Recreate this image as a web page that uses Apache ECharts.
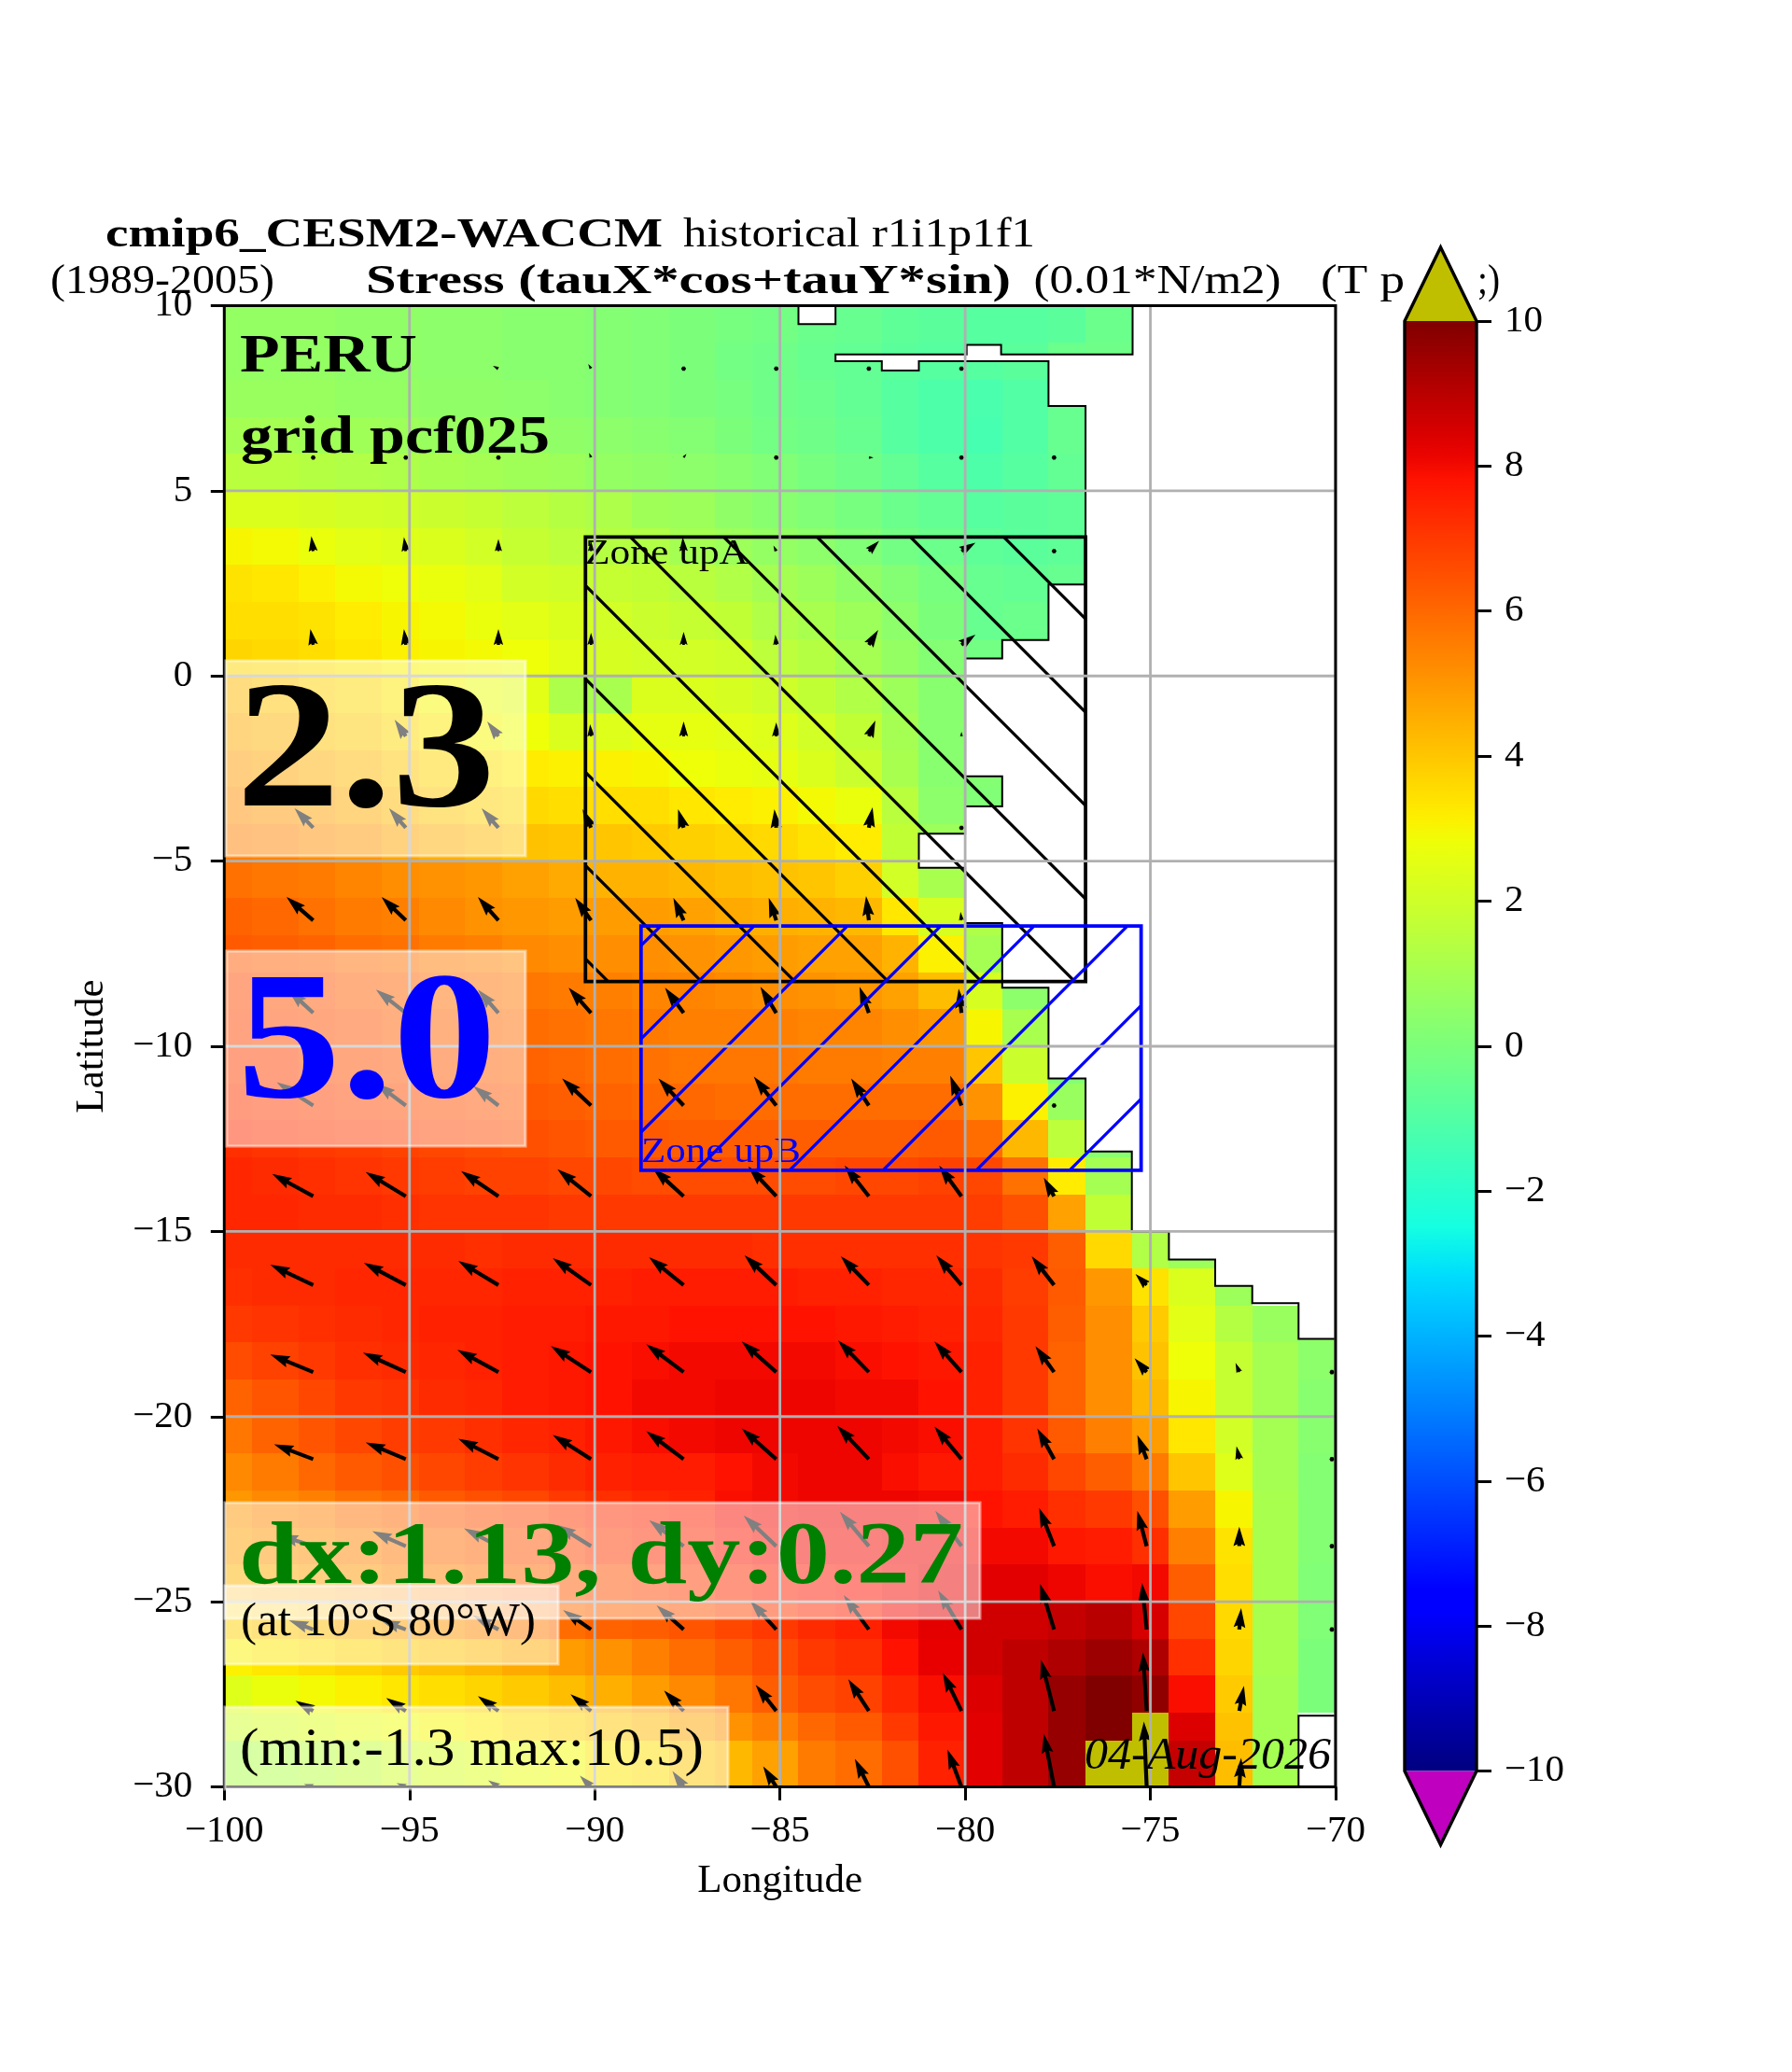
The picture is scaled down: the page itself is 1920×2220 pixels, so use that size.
<!DOCTYPE html>
<html><head><meta charset="utf-8">
<style>html,body{margin:0;padding:0;background:#fff}#c{width:1920px;height:2220px}</style>
<script src="https://cdn.jsdelivr.net/npm/echarts@6/dist/echarts.min.js"></script>
</head><body><div id="c"></div>
<script>
// ---- data ----
const lonTicks = [-100,-95,-90,-85,-80,-75,-70];
const latTicks = [-30,-25,-20,-15,-10,-5,0,5,10];
const cbarTicks = [-10,-8,-6,-4,-2,0,2,4,6,8,10];
const lonEdges = [-100,-99.25,-98,-97,-95.75,-94.75,-93.5,-92.5,-91.25,-90.25,-89,-88,-86.75,-85.75,-84.5,-83.5,-82.25,-81.25,-80,-79,-77.75,-76.75,-75.5,-74.5,-73.25,-72.25,-71,-70];
const latEdges = [10,9,8,7,6,5,4,3,2,1,0,-1,-2,-3,-4,-5,-6,-7,-8,-9,-10,-11,-12,-13,-14,-15,-16,-17,-18,-19,-20,-21,-22,-23,-24,-25,-26,-27,-28,-28.75,-30];
const stressRows = [
[.6,.6,.6,.5,.5,.4,.4,.3,.3,.2,.1,0,-.1,-.2,-.4,-.5,-.7,-.8,-.9,-.9,-.8,-.4],
[.6,.6,.6,.5,.5,.4,.4,.3,.3,.2,.1,0,-.2,-.3,-.5,-.6,-.8,-.9,-.9,-.8,-.4,-.3],
[.7,.7,.7,.6,.6,.5,.5,.4,.3,.2,.1,0,-.1,-.3,-.4,-.6,-.9,-1.1,-1.2,-1.0,-.5,-.3],
[1.0,1.0,.9,.9,.8,.7,.7,.6,.5,.4,.3,.2,0,-.2,-.3,-.5,-.9,-1.1,-1.3,-1.0,-.5,-.3],
[1.5,1.5,1.4,1.3,1.2,1.1,1.0,.9,.8,.6,.5,.4,.3,.1,-.1,-.3,-.6,-.9,-1.1,-.9,-.6,-.4],
[2.3,2.3,2.2,2.1,2.0,1.9,1.8,1.6,1.4,1.2,.9,.8,.5,.3,.1,-.1,-.4,-.6,-.9,-.8,-.7,-.5],
[3.0,2.9,2.7,2.5,2.4,2.3,2.1,1.8,1.6,1.4,1.3,1.0,.8,.6,.4,.1,-.2,-.4,-.7,-.8,-.7,-.5],
[3.4,3.3,3.1,2.9,2.8,2.7,2.5,2.1,2.0,1.8,1.7,1.5,1.3,1.0,.8,.5,.2,-.1,-.5,-.6,-.5],
[3.5,3.5,3.4,3.2,3.0,2.9,2.7,2.5,2.3,2.1,1.9,1.8,1.7,1.3,1.1,.8,.4,0,-.5,-.4],
[3.7,3.6,3.5,3.3,3.1,3.0,2.9,2.8,2.5,2.2,2.1,2.1,2.0,1.6,1.4,1.0,.6,.2,-.2,-.2],
[4.3,4.1,3.8,3.6,3.3,3.0,2.7,2.5,1.2,1.1,2.3,2.3,2.2,2.0,1.7,1.3,.8,.3],
[4.6,4.4,4.1,3.9,3.6,3.3,3.0,2.8,2.3,2.4,2.6,2.6,2.5,2.4,2.1,1.7,1.0,.3],
[4.9,4.7,4.5,4.3,4.0,3.7,3.4,3.2,3.1,3.1,3.0,2.8,2.7,2.6,2.3,1.9,1.1,.3,.2],
[5.2,5.0,4.8,4.6,4.3,4.0,3.8,3.6,3.5,3.5,3.5,3.3,3.2,3.1,2.9,2.7,1.5,.4,.1],
[5.5,5.4,5.2,5.0,4.7,4.5,4.3,4.1,4.0,4.0,3.9,3.8,3.7,3.6,3.4,3.2,1.7,.8],
[5.8,5.7,5.6,5.4,5.2,5.1,5.0,4.8,4.6,4.4,4.4,4.3,4.2,4.1,4.0,3.8,2.1,1.1],
[6.1,6.0,5.8,5.6,5.5,5.3,5.1,5.0,4.9,4.9,4.9,4.8,4.6,4.5,4.4,4.3,3.3,2.2,1.2],
[6.3,6.2,6.1,5.9,5.8,5.6,5.5,5.3,5.2,5.2,5.2,5.1,5.0,4.9,4.8,4.8,4.4,3.1,1.0],
[6.6,6.5,6.4,6.2,6.1,5.9,5.8,5.7,5.6,5.5,5.4,5.4,5.3,5.2,5.1,5.0,4.8,4.2,2.2,.4],
[6.7,6.6,6.5,6.4,6.2,6.1,6.0,5.9,5.8,5.7,5.6,5.5,5.5,5.5,5.4,5.4,5.2,5.0,3.0,1.1],
[6.8,6.8,6.6,6.5,6.4,6.3,6.2,6.1,6.0,5.9,5.8,5.7,5.7,5.7,5.6,5.6,5.5,5.5,4.0,1.9,.2],
[7.0,6.9,6.8,6.7,6.6,6.5,6.4,6.3,6.2,6.1,6.0,6.0,5.9,5.9,5.9,5.9,5.9,5.9,5.1,3.1,.7],
[7.2,7.1,7.0,6.9,6.8,6.7,6.6,6.5,6.4,6.3,6.3,6.2,6.2,6.2,6.2,6.2,6.2,6.3,5.9,4.3,1.6,.3],
[7.4,7.3,7.2,7.1,7.0,6.9,6.8,6.8,6.7,6.7,6.6,6.6,6.6,6.6,6.6,6.7,6.7,6.8,6.7,5.8,3.2,1.0],
[7.4,7.4,7.3,7.3,7.2,7.1,7.1,7.1,7.0,7.0,7.0,7.0,7.0,7.0,7.0,7.0,7.0,7.0,6.9,6.5,4.8,1.7],
[7.3,7.3,7.3,7.3,7.3,7.3,7.2,7.3,7.3,7.3,7.3,7.3,7.3,7.2,7.2,7.2,7.2,7.2,7.1,7.0,6.2,3.6,1.3,.8],
[7.2,7.3,7.3,7.4,7.4,7.4,7.4,7.5,7.5,7.5,7.6,7.6,7.6,7.6,7.5,7.5,7.4,7.4,7.3,6.9,6.3,5.0,3.4,2.3,.8],
[7.0,7.1,7.2,7.3,7.4,7.5,7.5,7.6,7.6,7.7,7.7,7.8,7.8,7.8,7.8,7.7,7.6,7.5,7.4,7.0,6.2,5.2,3.9,2.5,1.4,.7,.5],
[6.6,6.8,7.0,7.2,7.3,7.4,7.5,7.6,7.7,7.8,7.9,8.0,8.0,8.0,8.0,7.9,7.8,7.7,7.5,7.0,6.1,5.2,4.1,2.8,1.8,1.0,.4],
[6.1,6.4,6.7,7.0,7.1,7.3,7.4,7.6,7.7,7.8,8.0,8.0,8.1,8.1,8.1,8.0,8.0,7.8,7.5,7.0,6.1,5.2,4.3,3.0,1.8,1.0,.3],
[5.7,6.1,6.4,6.7,6.9,7.0,7.2,7.4,7.5,7.7,7.9,8.0,8.1,8.1,8.1,8.1,8.0,7.9,7.6,7.1,6.3,5.5,4.9,3.3,2.1,1.0,.3],
[5.3,5.6,6.0,6.3,6.5,6.7,6.9,7.1,7.3,7.5,7.6,7.6,7.8,8.0,8.1,8.1,7.9,7.7,7.6,7.3,6.7,6.2,5.6,4.0,2.4,1.0,.2],
[5.0,5.3,5.5,5.8,6.0,6.3,6.5,6.7,7.0,7.2,7.4,7.5,7.9,8.0,8.1,8.1,8.1,8.0,7.8,7.6,7.2,7.0,6.5,4.9,3.0,1.1,.2],
[4.8,5.0,5.2,5.4,5.7,5.9,6.1,6.4,6.7,7.0,7.2,7.3,7.7,7.9,8.0,8.0,8.1,8.1,8.0,8.0,7.7,7.6,7.2,5.5,3.4,1.1,.2],
[4.4,4.6,4.8,5.0,5.3,5.5,5.7,6.0,6.3,6.5,6.7,6.9,7.2,7.5,7.7,7.8,8.0,8.2,8.3,8.3,8.1,7.9,8.0,6.2,3.5,1.1,.1],
[3.8,4.0,4.2,4.5,4.8,5.0,5.3,5.6,5.9,6.1,6.2,6.4,6.7,7.0,7.3,7.5,8.0,8.25,8.6,8.6,8.8,9.0,8.5,6.7,3.6,1.1,.1],
[3.1,3.3,3.5,3.7,3.9,4.1,4.3,4.6,4.9,5.1,5.5,5.9,6.2,6.6,7.0,7.2,7.8,8.2,8.6,8.9,9.2,9.5,9.2,7.2,3.7,1.1,0],
[2.4,2.7,2.9,3.1,3.3,3.5,3.7,3.9,4.2,4.5,4.9,5.3,5.7,6.2,6.6,6.8,7.4,7.9,8.4,8.9,9.6,10,9.7,7.9,3.9,1.0,0],
[2.0,2.2,2.4,2.6,2.8,3.0,3.2,3.5,3.7,4.0,4.3,4.7,5.1,5.5,6.0,6.3,7.0,7.7,8.3,8.9,9.6,10,10.5,8.4,4.1,1.0],
[1.2,1.3,1.5,1.7,2.0,2.2,2.4,2.7,2.9,3.3,3.5,4.0,4.3,4.8,5.6,5.9,6.5,7.5,8.3,8.9,9.6,10.5,10.5,8.8,4.2,1.0]
];
const arrowLons = [-97.6,-95.1,-92.6,-90.1,-87.6,-85.1,-82.6,-80.1,-77.6,-75.1,-72.6,-70.1];
const arrowLats = [8.3,5.9,3.37,.84,-1.63,-4.1,-6.6,-9.1,-11.6,-14.05,-16.45,-18.8,-21.15,-23.5,-25.75,-27.95,-30];
const arrowU = [
[-3,-4,-6,-3,0,0,0,0],
[1,2,0,-2,3,0,5,0,0],
[-2,-2,0,0,-1,-3,11,15,0],
[-3,-2,0,0,0,-1,10,15],
[-12,-12,-12,-1,0,0,7,0],
[-20,-18,-18,-9,-6,-2,4,0],
[-28.6,-26,-22,-17,-11,-8,-3,-1],
[-27,-32,-22,-24,-20,-17,-10,-3],
[-39,-32,-27,-31,-27,-24,-19,-12,0],
[-44,-43,-40,-36,-33,-30,-26,-24,-11],
[-46,-45,-43,-41,-37,-34,-30,-27,-24,-12],
[-46,-46,-44,-43,-40,-37,-33,-29,-20,-13,-4,0],
[-42,-43,-43,-41,-40,-37,-34,-29,-18,-10,-3,0],
[-37,-36,-37,-37,-37,-35,-31,-28,-16,-10,0,0],
[-26,-27,-27,-30,-29,-28,-27,-25,-15,-5,2,0],
[-19,-21,-22,-22,-21,-22,-22,-20,-14,-4,5],
[-10,-10,-11,-12,-12,-14,-15,-15,-11,-3,2]
];
const arrowV = [
[3,3,3,5,0,0,0,0],
[-2,-3,2,5,4,4,0,0,0],
[16,15,13,11,15,6,11,9,0],
[17,17,17,13,14,11,16,11],
[17,18,16,13,16,15,17,5],
[21,21,21,20,20,20,22,0],
[25,25,25,24,24,24,26,9],
[25,25,25,27,27,28,28,26],
[25,24,21,29,29,31,29,32,0],
[24,26,27,29,30,32,33,33,20],
[22,24,26,29,30,32,31,32,31,12],
[19,21,24,28,30,33,34,33,28,15,10,0],
[16,18,22,26,30,33,36,35,33,26,14,0],
[12,16,19,23,28,33,37,38,41,38,21,0],
[10,10,15,21,26,31,37,42,49,50,23,0],
[11,14,16,18,22,28,34,41,55,63,27],
[3,4,7,12,17,22,30,40,57,70,31]
];
const landMain = [[-75.48,10],[-75.48,8.68],[-79.03,8.68],[-79.03,8.94],[-79.96,8.94],[-79.96,8.68],[-83.5,8.68],[-83.5,8.5],[-82.25,8.5],[-82.25,8.25],[-81.25,8.25],[-81.25,8.5],[-77.75,8.5],[-77.75,7.29],[-76.75,7.29],[-76.75,2.47],[-77.75,2.47],[-77.75,.97],[-79,.97],[-79,.47],[-80,.47],[-80,-2.71],[-79,-2.71],[-79,-3.52],[-80,-3.52],[-80,-4.26],[-81.25,-4.26],[-81.25,-5.18],[-80,-5.18],[-80,-6.67],[-79,-6.67],[-79,-8.42],[-77.75,-8.42],[-77.75,-10.87],[-76.75,-10.87],[-76.75,-12.84],[-75.5,-12.84],[-75.5,-15],[-74.5,-15],[-74.5,-15.76],[-73.25,-15.76],[-73.25,-16.47],[-72.25,-16.47],[-72.25,-16.94],[-71,-16.94],[-71,-17.9],[-70,-17.9],[-70,10]];
const landIslandN = [[-84.5,10],[-84.5,9.5],[-83.5,9.5],[-83.5,10]];
const landIslandS = [[-71,-30],[-71,-28.08],[-70,-28.08],[-70,-30]];
const zoneA = [-90.25,3.75,-76.75,-8.25];
const zoneB = [-88.75,-6.75,-75.25,-13.35];
const cbarRange = [-10,10];

// ---- colour map ----
function seg(p,t){for(let i=1;i<p.length;i++){if(t<=p[i][0]){const a=p[i-1],b=p[i];return a[1]+(b[1]-a[1])*(t-a[0])/(b[0]-a[0]);}}return p[p.length-1][1];}
const R=[[0,0],[.35,0],[.66,1],[.89,1],[1,.5]],G=[[0,0],[.125,0],[.375,1],[.64,1],[.91,0],[1,0]],B=[[0,.5],[.11,1],[.34,1],[.65,0],[1,0]];
const OVER='#bfbf00',UNDER='#bf00bf';
function jet(v){if(v>10)return OVER;if(v<-10)return UNDER;const t=(v+10)/20;const h=c=>Math.round(seg(c,t)*255);return `rgb(${h(R)},${h(G)},${h(B)})`;}

const cellData=[];
stressRows.forEach((row,r)=>row.forEach((v,c)=>{if(v!=null)cellData.push([c,r,v]);}));
const arrowData=[];
arrowLats.forEach((la,r)=>arrowU[r].forEach((u,c)=>arrowData.push([arrowLons[c],la,u,arrowV[r][c]])));
const landPolys=[landMain,landIslandN,landIslandS];
const gridData=lonTicks.map(v=>[v,0]).concat(latTicks.map(v=>[v,1]));

const ARROW_DEG=1/39.7; // arrow units -> degrees
function arrowPoly(x0,y0,x1,y1){
  const w=4.2,dx=x1-x0,dy=y1-y0,L=Math.hypot(dx,dy);
  if(L<w){ // matplotlib quiver: short vectors become dots
    const pts=[];for(let i=0;i<6;i++){const a=i*Math.PI/3;pts.push([x0+w/1.6*Math.cos(a),y0+w/1.6*Math.sin(a)]);}return pts;
  }
  let hl=5*w,ha=4.5*w,hw=1.5*w,sw=w/2;
  if(L<hl){const s=L/hl;hl*=s;ha*=s;hw*=s;sw*=s;}
  const ux=dx/L,uy=dy/L,nx=-uy,ny=ux;
  const P=(a,b)=>[x0+ux*a+nx*b,y0+uy*a+ny*b];
  return [P(0,sw),P(L-ha,sw),P(L-hl,hw),P(L,0),P(L-hl,-hw),P(L-ha,-sw),P(0,-sw)];
}
function hatch(x0,y0,x1,y1,dir){
  const out=[];
  for(let k=-6000;k<6000;k+=100){
    let a,b,c,d;
    if(dir>0){ // y-x=k
      a=Math.max(x0,y0-k);b=Math.min(x1,y1-k);if(a>=b)continue;c=a+k;d=b+k;
    }else{ // x+y=k
      if(k<0)continue;
      a=Math.max(x0,k-y1);b=Math.min(x1,k-y0);if(a>=b)continue;c=k-a;d=k-b;
    }
    out.push([a,c,b,d]);
  }
  return out;
}
function zoneRender(rect,color,dir){
  return function(params,api){
    const p0=api.coord([rect[0],rect[1]]),p1=api.coord([rect[2],rect[3]]);
    const ch=hatch(p0[0],p0[1],p1[0],p1[1],dir).map(s=>({type:'line',shape:{x1:s[0],y1:s[1],x2:s[2],y2:s[3]},style:{stroke:color,lineWidth:3.2,fill:null}}));
    ch.push({type:'rect',shape:{x:p0[0],y:p0[1],width:p1[0]-p0[0],height:p1[1]-p0[1]},style:{fill:'none',stroke:color,lineWidth:3.8}});
    return {type:'group',children:ch};
  };
}
const SER='"Liberation Serif",serif';
const mc=document.createElement('canvas').getContext('2d');
function T(str,x,base,font,w,fill,z){
  const size=parseFloat(font.match(/([\d.]+)px/)[1]);
  const f=font+' '+SER;mc.font=f;
  const sx=w?w/mc.measureText(str).width:1;
  const k=size>70?0.247:0.285;
  return {type:'text',x:x,y:base-k*size,scaleX:sx,z:z||20,silent:true,
    style:{text:str,font:f,fill:fill||'#000',align:'left',verticalAlign:'middle'}};
}
function BOX(x0,y0,x1,y1){
  return {type:'rect',z:15,silent:true,shape:{x:x0,y:y0,width:x1-x0,height:y1-y0},style:{fill:'rgba(255,255,255,0.5)',stroke:'rgba(255,255,255,0.5)',lineWidth:3}};
}
const minus=v=>String(v).replace('-','\u2212');
const tickStyle={show:true,length:14.5,lineStyle:{color:'#000',width:3}};
const labelBase={color:'#000',fontFamily:'Liberation Serif',fontSize:41};

const chart=echarts.init(document.getElementById('c'),null,{renderer:'canvas',width:1920,height:2220});
chart.setOption({
  backgroundColor:'#fff',animation:false,
  grid:[
    {left:240.3,top:327.5,width:1190.7,height:1587,containLabel:false},
    {left:1505,top:344,width:77,height:1553.5,containLabel:false}
  ],
  xAxis:[
    {gridIndex:0,type:'value',min:-100,max:-70,interval:5,z:7,
     name:'Longitude',nameLocation:'middle',nameGap:80,nameTextStyle:{color:'#000',fontFamily:'Liberation Serif',fontSize:43},
     axisLine:{show:false,onZero:false},axisTick:tickStyle,
     axisLabel:{...labelBase,margin:27,formatter:minus,showMinLabel:true,showMaxLabel:true},
     splitLine:{show:false}},
    {gridIndex:1,type:'value',min:0,max:1,show:false,axisLine:{onZero:false}}
  ],
  yAxis:[
    {gridIndex:0,type:'value',min:-30,max:10,interval:5,z:7,
     name:'Latitude',nameLocation:'middle',nameGap:120,nameRotate:90,nameTextStyle:{color:'#000',fontFamily:'Liberation Serif',fontSize:43},
     axisLine:{show:false,onZero:false},axisTick:tickStyle,
     axisLabel:{...labelBase,margin:34,formatter:minus,showMinLabel:true,showMaxLabel:true},
     splitLine:{show:false}},
    {gridIndex:1,type:'value',position:'right',min:cbarRange[0],max:cbarRange[1],interval:2,z:7,
     axisLine:{show:false,onZero:false},axisTick:{show:true,length:16,lineStyle:{color:'#000',width:3}},
     axisLabel:{...labelBase,margin:30,formatter:minus,showMinLabel:true,showMaxLabel:true},
     splitLine:{show:false}}
  ],
  graphic:{elements:[
    BOX(242,708,563,917),BOX(243,1019,563,1228),BOX(241,1610,1050,1734),BOX(241,1699,598,1783),BOX(241,1829,780,1917),
    T('cmip6_CESM2-WACCM',113,265,'bold 44px',597,'#000',1),
    T('historical r1i1p1f1',732,265,'44px',377,'#000',1),
    T('(1989-2005)',54,315,'44px',240,'#000',1),
    T('Stress (tauX*cos+tauY*sin)',392,315,'bold 44px',691,'#000',1),
    T('(0.01*N/m2)',1107.6,315,'44px',265,'#000',1),
    T('(T p',1415,315,'44px',90,'#000',1),
    T(';)',1583,315,'44px',24,'#000',1),
    T('PERU',257,400,'bold 58px',190),
    T('grid pcf025',258,487,'bold 58px',331),
    T('2.3',253,860.7,'bold 194px',278),
    T('5.0',254,1172.5,'bold 194px',278,'#0000ff'),
    T('dx:1.13, dy:0.27',256,1695,'bold 96px',776,'#008000'),
    T('(at 10\u00b0S 80\u00b0W)',258,1753,'50px',316),
    T('(min:-1.3 max:10.5)',257,1892.7,'58px',497),
    T('04-Aug-2026',1162,1896,'italic 48px',264,'#000',8),
    T('Zone upA',627,605,'38px',175,'#000',4),
    T('Zone upB',687,1246,'38px',171,'#0000ff',4)
  ]},
  series:[
    {type:'custom',name:'stress',xAxisIndex:0,yAxisIndex:0,z:1,silent:true,clip:true,data:cellData,
     renderItem(params,api){
       const c=api.value(0),r=api.value(1),v=api.value(2);
       const a=api.coord([lonEdges[c],latEdges[r]]),b=api.coord([lonEdges[c+1],latEdges[r+1]]);
       const x0=Math.round(a[0]),y0=Math.round(a[1]),x1=Math.round(b[0]),y1=Math.round(b[1]);
       return {type:'rect',shape:{x:x0,y:y0,width:x1-x0,height:y1-y0},style:{fill:jet(v)}};
     }},
    {type:'custom',name:'land',xAxisIndex:0,yAxisIndex:0,z:2,silent:true,clip:true,data:landPolys.map((p,i)=>[i]),
     renderItem(params,api){
       const pts=landPolys[params.dataIndex].map(p=>api.coord(p));
       return {type:'polygon',shape:{points:pts},style:{fill:'#fff',stroke:'#000',lineWidth:2}};
     }},
    {type:'custom',name:'stress vectors',xAxisIndex:0,yAxisIndex:0,z:3,silent:true,clip:true,data:arrowData,
     renderItem(params,api){
       const lo=api.value(0),la=api.value(1),u=api.value(2),v=api.value(3);
       const a=api.coord([lo,la]),b=api.coord([lo+u*ARROW_DEG,la+v*ARROW_DEG]);
       return {type:'polygon',shape:{points:arrowPoly(a[0],a[1],b[0],b[1])},style:{fill:'#000'}};
     }},
    {type:'custom',name:'Zone upA',xAxisIndex:0,yAxisIndex:0,z:4,silent:true,data:[[zoneA[0],zoneA[1]]],renderItem:zoneRender(zoneA,'#000',1)},
    {type:'custom',name:'Zone upB',xAxisIndex:0,yAxisIndex:0,z:4,silent:true,data:[[zoneB[0],zoneB[1]]],renderItem:zoneRender(zoneB,'#0000ff',-1)},
    {type:'custom',name:'grid lines',xAxisIndex:0,yAxisIndex:0,z:5,silent:true,clip:true,data:gridData,
     renderItem(params,api){
       const v=api.value(0),isLat=api.value(1)===1;
       const a=isLat?api.coord([-100,v]):api.coord([v,10]),b=isLat?api.coord([-70,v]):api.coord([v,-30]);
       return {type:'line',shape:{x1:a[0],y1:a[1],x2:b[0],y2:b[1]},style:{stroke:'#b0b0b0',lineWidth:2.8}};
     }},
    {type:'custom',name:'frame',xAxisIndex:0,yAxisIndex:0,z:6,silent:true,data:[[-100,10]],
     renderItem(params,api){
       const a=api.coord([-100,10]),b=api.coord([-70,-30]);
       return {type:'rect',shape:{x:a[0],y:a[1],width:b[0]-a[0],height:b[1]-a[1]},style:{fill:'none',stroke:'#000',lineWidth:3}};
     }},
    {type:'custom',name:'colorbar',xAxisIndex:1,yAxisIndex:1,z:5,silent:true,clip:false,data:[[0,cbarRange[0]]],
     renderItem(params,api){
       const t=api.coord([0,cbarRange[1]]),b=api.coord([1,cbarRange[0]]);
       const stops=[];for(let i=0;i<=64;i++)stops.push({offset:i/64,color:jet(cbarRange[1]-(cbarRange[1]-cbarRange[0])*i/64)});
       const x0=t[0],x1=b[0],y0=t[1],y1=b[1],xm=(x0+x1)/2,tip=79;
       return {type:'group',children:[
         {type:'rect',shape:{x:x0,y:y0,width:x1-x0,height:y1-y0},style:{fill:new echarts.graphic.LinearGradient(0,0,0,1,stops)}},
         {type:'polygon',shape:{points:[[x0,y0],[xm,y0-tip],[x1,y0]]},style:{fill:OVER}},
         {type:'polygon',shape:{points:[[x0,y1],[xm,y1+tip],[x1,y1]]},style:{fill:UNDER}},
         {type:'polygon',shape:{points:[[x0,y0],[xm,y0-tip],[x1,y0],[x1,y1],[xm,y1+tip],[x0,y1]]},style:{fill:'none',stroke:'#000',lineWidth:3.4,lineJoin:'miter'}}
       ]};
     }}
  ]
});
</script></body></html>
